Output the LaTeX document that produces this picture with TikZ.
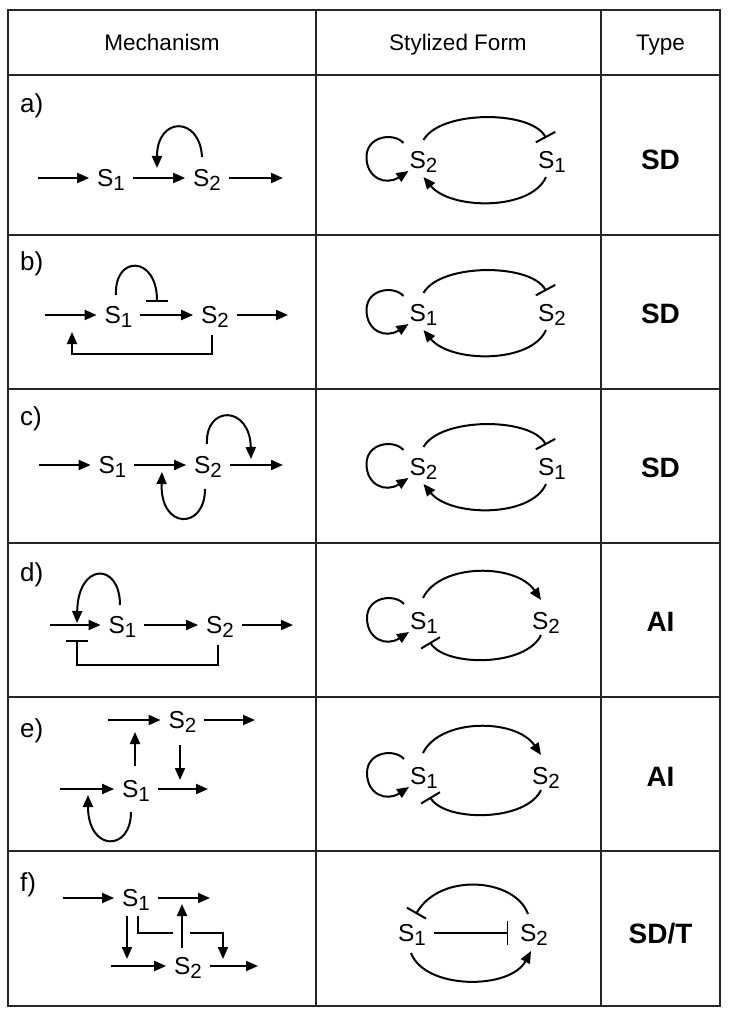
\documentclass[tikz,border=0pt]{standalone}
\usepackage{fontspec}
\setmainfont{Liberation Sans}
\usetikzlibrary{arrows.meta}
\newcommand{\sbs}[1]{\raisebox{-3.5pt}{\fontsize{20.5}{20.5}\selectfont #1}}
% self loop to the left of a node
\newcommand{\selfloop}[1]{%
  \draw[arr] ([shift={(-20,-17)}]#1.center) .. controls ([shift={(-30,-28)}]#1.center) and ([shift={(-57,-24)}]#1.center) .. ([shift={(-57,-3)}]#1.center)
     .. controls ([shift={(-57,18)}]#1.center) and ([shift={(-38,26)}]#1.center) .. ([shift={(-15,11)}]#1.center);}
% stylized SD form: #1 prefix, #2 y, #3 left sub, #4 right sub
\newcommand{\formSD}[4]{%
  \node[sn] (#1L) at (423.5,#2) {S\sbs{#3}};
  \node[sn] (#1R) at (552,#2) {S\sbs{#4}};
  \draw[inh] ([shift={(0,-20)}]#1L.center) .. controls ([shift={(17,-50)}]#1L.center) and ([shift={(-21,-50)}]#1R.center) .. ([shift={(-6,-22)}]#1R.center);
  \draw[arr] ([shift={(-6,17)}]#1R.center) .. controls ([shift={(-21,51)}]#1R.center) and ([shift={(27,50)}]#1L.center) .. ([shift={(0,17)}]#1L.center);
  \selfloop{#1L}}
% stylized AI form
\newcommand{\formAI}[4]{%
  \node[sn] (#1L) at (424,#2) {S\sbs{#3}};
  \node[sn] (#1R) at (546,#2) {S\sbs{#4}};
  \draw[arr] ([shift={(-1,-23)}]#1L.center) .. controls ([shift={(16,-58)}]#1L.center) and ([shift={(-30,-58)}]#1R.center) .. ([shift={(-5,-21)}]#1R.center);
  \draw[inh] ([shift={(-5,14)}]#1R.center) .. controls ([shift={(-20,46)}]#1R.center) and ([shift={(21,46)}]#1L.center) .. ([shift={(6,21)}]#1L.center);
  \selfloop{#1L}}
\begin{document}
\begin{tikzpicture}[x=1pt,y=-1pt,
  arr/.style={line width=2pt,-{Triangle[length=12pt,width=10pt]}},
  inh/.style={line width=2pt,-{Bar[width=22pt]}},
  ln/.style={line width=2pt},
  sn/.style={font=\fontsize{24.5}{24.5}\selectfont, inner sep=0pt, outer sep=8pt, text height=17.5pt, text depth=0pt},
  lab/.style={font=\fontsize{26}{26}\selectfont, anchor=base west, inner sep=0pt},
  typ/.style={font=\bfseries\fontsize{28}{28}\selectfont, inner sep=0pt, text height=20pt, text depth=0pt},
  hd/.style={font=\fontsize{22.5}{22.5}\selectfont, inner sep=0pt, text height=16.1pt, text depth=0pt},
  grid/.style={line width=1.2pt, black!85}]
\useasboundingbox (0,0) rectangle (729,1019);
\fill[white] (0,0) rectangle (729,1019);
% table
\draw[grid] (8,10) rectangle (720,1006);
\draw[grid] (316,10) -- (316,1006);
\draw[grid] (601,10) -- (601,1006);
\foreach \yy in {75,235,389,543,697,851} \draw[grid] (8,\yy) -- (720,\yy);
% headers
\node[hd] (h1) at (162,42) {Mechanism};
\node[hd] (h2) at (458,42) {Stylized Form};
\node[hd] (h3) at (660.5,42) {Type};
% row labels
\node[lab] (la) at (20,113) {a)};
\node[lab] (lb) at (20,270) {b)};
\node[lab] (lc) at (20,425.7) {c)};
\node[lab] (ld) at (20,581.3) {d)};
\node[lab] (le) at (20,737) {e)};
\node[lab] (lf) at (20,891) {f)};
% types
\node[typ] (ta) at (660.5,160) {SD};
\node[typ] (tb) at (660.5,313) {SD};
\node[typ] (tc) at (660.5,467) {SD};
\node[typ] (td) at (660.5,621) {AI};
\node[typ] (te) at (660.5,776) {AI};
\node[typ] (tf) at (660.5,933) {SD/T};

% ---- row a mechanism
\coordinate (a0) at (38,178);
\node[sn] (a1) at (111,178) {S\sbs{1}};
\node[sn] (a2) at (207,178) {S\sbs{2}};
\coordinate (a3) at (283,178);
\draw[arr] (a0) -- (a1);
\draw[arr] (a1) -- (a2);
\draw[arr] (a2) -- (a3);
\draw[arr] ([shift={(-5,-21)}]a2.center) .. controls ([shift={(-7,-62)}]a2.center) and ([shift={(-50,-62)}]a2.center) .. ([shift={(-50,-10)}]a2.center);

% ---- row b mechanism
\coordinate (b0) at (45,315);
\node[sn] (b1) at (118.5,315) {S\sbs{1}};
\node[sn] (b2) at (215,315) {S\sbs{2}};
\coordinate (b3) at (288,315);
\coordinate (b1in) at (72,332);
\draw[arr] (b0) -- (b1);
\draw[arr] (b1) -- (b2);
\draw[arr] (b2) -- (b3);
\draw[inh] ([shift={(-2.5,-20)}]b1.center) .. controls ([shift={(-4.5,-60)}]b1.center) and ([shift={(38.5,-60)}]b1.center) .. ([shift={(38.5,-13)}]b1.center);
\draw[arr] ([shift={(-3,20)}]b2.center) -- ([shift={(-3,39)}]b2.center) -| (b1in);

% ---- row c mechanism
\coordinate (c0) at (39,465);
\node[sn] (c1) at (112.5,465) {S\sbs{1}};
\node[sn] (c2) at (208,465) {S\sbs{2}};
\coordinate (c3) at (283,465);
\draw[arr] (c0) -- (c1);
\draw[arr] (c1) -- (c2);
\draw[arr] (c2) -- (c3);
\draw[arr] ([shift={(-1,-21)}]c2.center) .. controls ([shift={(-3,-60)}]c2.center) and ([shift={(42,-60)}]c2.center) .. ([shift={(43,-6)}]c2.center);
\draw[arr] ([shift={(-3,24)}]c2.center) .. controls ([shift={(-3,65)}]c2.center) and ([shift={(-48,65)}]c2.center) .. ([shift={(-46,7)}]c2.center);

% ---- row d mechanism
\coordinate (d0) at (50,625);
\node[sn] (d1) at (122.5,625) {S\sbs{1}};
\node[sn] (d2) at (220,625) {S\sbs{2}};
\coordinate (d3) at (293,625);
\coordinate (d1in) at (77,640);
\draw[arr] (d0) -- (d1);
\draw[arr] (d1) -- (d2);
\draw[arr] (d2) -- (d3);
\draw[arr] ([shift={(-2.5,-20)}]d1.center) .. controls ([shift={(-2.5,-63)}]d1.center) and ([shift={(-44.5,-63)}]d1.center) .. ([shift={(-45.5,-2)}]d1.center);
\draw[inh] ([shift={(-2,20)}]d2.center) -- ([shift={(-2,40)}]d2.center) -| (d1in);

% ---- row e mechanism
\coordinate (e20) at (108,720);
\node[sn] (e2) at (182.5,720) {S\sbs{2}};
\coordinate (e23) at (255,720);
\coordinate (e10) at (60,789);
\node[sn] (e1) at (136,789) {S\sbs{1}};
\coordinate (e13) at (208,789);
\coordinate (e2in) at (135,732);
\coordinate (e1out) at (180,780);
\draw[arr] (e20) -- (e2);
\draw[arr] (e2) -- (e23);
\draw[arr] (e10) -- (e1);
\draw[arr] (e1) -- (e13);
\draw[arr] ([shift={(-1,-23)}]e1.center) -- (e2in);
\draw[arr] ([shift={(-2.5,25)}]e2.center) -- (e1out);
\draw[arr] ([shift={(-5,23)}]e1.center) .. controls ([shift={(-5,63)}]e1.center) and ([shift={(-48,63)}]e1.center) .. ([shift={(-48,6)}]e1.center);

% ---- row f mechanism
\coordinate (f10) at (63,898);
\node[sn] (f1) at (136,898) {S\sbs{1}};
\coordinate (f13) at (210,898);
\coordinate (f20) at (111,966);
\node[sn] (f2) at (188,966) {S\sbs{2}};
\coordinate (f23) at (258,966);
\coordinate (f2in) at (127,959);
\coordinate (fx1) at (173,933);
\coordinate (fx2) at (190,933);
\coordinate (f2out) at (223,959);
\coordinate (f1out) at (182,904);
\draw[arr] (f10) -- (f1);
\draw[arr] (f1) -- (f13);
\draw[arr] (f20) -- (f2);
\draw[arr] (f2) -- (f23);
\draw[arr] ([shift={(-9,18)}]f1.center) -- (f2in);
\draw[ln] ([shift={(2,18)}]f1.center) |- (fx1);
\draw[arr] (fx2) -| (f2out);
\draw[arr] ([shift={(-6,-18)}]f2.center) -- (f1out);

% ---- stylized forms
\formSD{sa}{160}{2}{1}
\formSD{sb}{313}{1}{2}
\formSD{sc}{467}{2}{1}
\formAI{sd}{621}{1}{2}
\formAI{se}{776}{1}{2}

% row f stylized
\node[sn] (sfL) at (412,933) {S\sbs{1}};
\node[sn] (sfR) at (534,933) {S\sbs{2}};
\draw[line width=1.4pt,-{Bar[width=24pt]},shorten >=4pt] (sfL) -- (sfR);
\draw[inh] ([shift={(-6,-19)}]sfR.center) .. controls ([shift={(-19,-55)}]sfR.center) and ([shift={(28,-61)}]sfL.center) .. ([shift={(4,-19)}]sfL.center);
\draw[arr] ([shift={(-1,20)}]sfL.center) .. controls ([shift={(13,57)}]sfL.center) and ([shift={(-24,57)}]sfR.center) .. ([shift={(-3,18)}]sfR.center);
\end{tikzpicture}
\end{document}
